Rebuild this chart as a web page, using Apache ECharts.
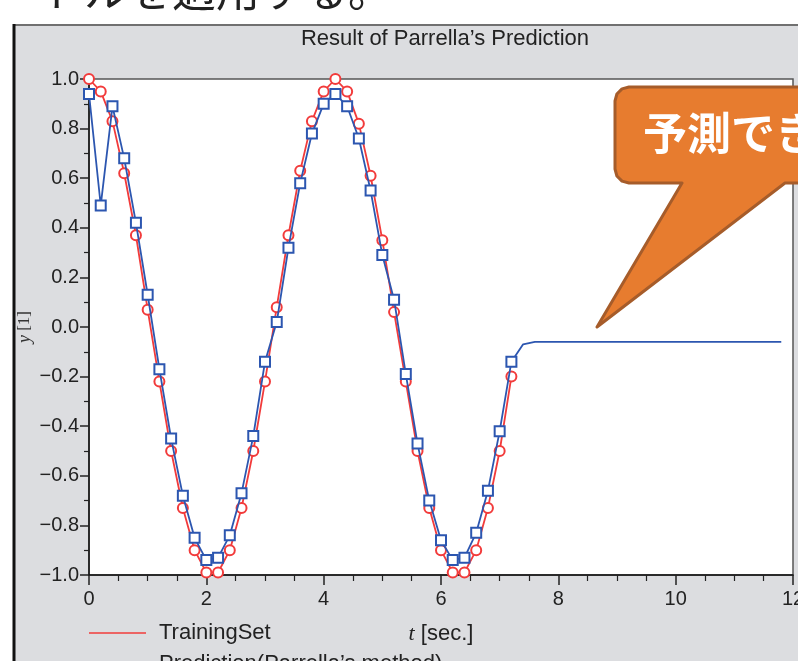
<!DOCTYPE html>
<html><head><meta charset="utf-8">
<script src="https://cdn.jsdelivr.net/npm/echarts@6/dist/echarts.min.js"></script>
<style>html,body{margin:0;padding:0;background:#fff;overflow:hidden}#c{width:798px;height:661px}</style>
</head><body><div id="c"></div>
<script>
// ---- data ----
const tTrain = [0,0.2,0.4,0.6,0.8,1.0,1.2,1.4,1.6,1.8,2.0,2.2,2.4,2.6,2.8,3.0,3.2,3.4,3.6,3.8,4.0,4.2,4.4,4.6,4.8,5.0,5.2,5.4,5.6,5.8,6.0,6.2,6.4,6.6,6.8,7.0,7.2];
const trainingSet = [1.00,0.95,0.83,0.62,0.37,0.07,-0.22,-0.50,-0.73,-0.90,-0.99,-0.99,-0.90,-0.73,-0.50,-0.22,0.08,0.37,0.63,0.83,0.95,1.00,0.95,0.82,0.61,0.35,0.06,-0.22,-0.50,-0.73,-0.90,-0.99,-0.99,-0.90,-0.73,-0.50,-0.20];
const predictionFit = [0.94,0.49,0.89,0.68,0.42,0.13,-0.17,-0.45,-0.68,-0.85,-0.94,-0.93,-0.84,-0.67,-0.44,-0.14,0.02,0.32,0.58,0.78,0.90,0.94,0.89,0.76,0.55,0.29,0.11,-0.19,-0.47,-0.70,-0.86,-0.94,-0.93,-0.83,-0.66,-0.42,-0.14];
const tForecast = [7.4,7.6,7.8,8.0,8.2,8.4,8.6,8.8,9.0,9.2,9.4,9.6,9.8,10.0,10.2,10.4,10.6,10.8,11.0,11.2,11.4,11.6,11.8];
const predictionForecast = [-0.07,-0.06,-0.06,-0.06,-0.06,-0.06,-0.06,-0.06,-0.06,-0.06,-0.06,-0.06,-0.06,-0.06,-0.06,-0.06,-0.06,-0.06,-0.06,-0.06,-0.06,-0.06,-0.06];
const seriesNames = ['TrainingSet', 'Prediction(Parrella\u2019s method)'];
const titleText = 'Result of Parrella\u2019s Prediction';
const headText = 'トルを適用する。';
const calloutText = '予測できない';

// ---- chart ----
const trainData = tTrain.map((t, i) => [t, trainingSet[i]]);
const predData = tTrain.map((t, i) => [t, predictionFit[i]])
  .concat(tForecast.map((t, i) => ({ value: [t, predictionForecast[i]], symbol: 'none' })));

const font = 'Liberation Sans, Arial, sans-serif';
const legendBase = {
  orient: 'vertical', left: 84, itemWidth: 57, itemHeight: 1.6, icon: 'rect',
  textStyle: { fontFamily: font, fontSize: 22, color: '#222', padding: [0, 0, 0, 8] }
};
const chart = echarts.init(document.getElementById('c'));
chart.setOption({
  animation: false,
  backgroundColor: 'transparent',
  title: {
    text: titleText, left: 440, top: 23, textAlign: 'center',
    textStyle: { fontFamily: font, fontSize: 22, fontWeight: 'normal', color: '#222' }
  },
  grid: {
    left: 89, right: 5, top: 79, bottom: 86, outerBoundsMode: 'none', containLabel: false,
    show: true, backgroundColor: '#ffffff', borderColor: '#555', borderWidth: 1.5
  },
  legend: [
    Object.assign({ top: 617, data: [seriesNames[0]] }, legendBase),
    Object.assign({ top: 648, data: [seriesNames[1]] }, legendBase)
  ],
  xAxis: {
    type: 'value', min: 0, max: 12, interval: 2,
    name: '{i|t} [sec.]', nameLocation: 'middle', nameGap: 48,
    nameTextStyle: {
      fontFamily: font, fontSize: 22, color: '#222',
      rich: { i: { fontFamily: 'Liberation Serif, serif', fontStyle: 'italic', fontSize: 22, color: '#222' } }
    },
    axisLine: { onZero: false, lineStyle: { color: '#111', width: 1.5 } },
    axisTick: { inside: false, length: 10, lineStyle: { color: '#222', width: 1.5 } },
    minorTick: { show: true, splitNumber: 4, length: 6, lineStyle: { color: '#222', width: 1.2 } },
    axisLabel: { margin: 14, fontFamily: font, fontSize: 20, color: '#222' },
    splitLine: { show: false }
  },
  yAxis: {
    type: 'value', min: -1, max: 1, interval: 0.2,
    name: '{i|y} [1]', nameLocation: 'middle', nameGap: 55, nameRotate: 90, nameMoveOverlap: false,
    nameTextStyle: {
      fontFamily: 'Liberation Serif, serif', fontSize: 17, color: '#333',
      rich: { i: { fontFamily: 'Liberation Serif, serif', fontStyle: 'italic', fontSize: 18, color: '#333' } }
    },
    axisLine: { onZero: false, lineStyle: { color: '#111', width: 1.5 } },
    axisTick: { inside: false, length: 9, lineStyle: { color: '#222', width: 1.5 } },
    minorTick: { show: true, splitNumber: 2, length: 5, lineStyle: { color: '#222', width: 1.2 } },
    axisLabel: {
      margin: 10, fontFamily: font, fontSize: 20, color: '#222',
      formatter: v => (v < 0 ? '\u2212' : '') + Math.abs(v).toFixed(1)
    },
    splitLine: { show: false }
  },
  series: [
    {
      name: seriesNames[0], type: 'line', data: trainData,
      symbol: 'emptyCircle', symbolSize: 10, showAllSymbol: true,
      lineStyle: { color: '#f23b3b', width: 1.8 },
      itemStyle: { color: '#f23b3b', borderWidth: 1.6 },
      z: 2
    },
    {
      name: seriesNames[1], type: 'line', data: predData,
      symbol: 'emptyRect', symbolSize: 10, showAllSymbol: true,
      lineStyle: { color: '#2c56b0', width: 1.8 },
      itemStyle: { color: '#2c56b0', borderWidth: 2 },
      z: 3
    }
  ],
  graphic: [
    { type: 'rect', z: -10, shape: { x: 14, y: 25, width: 800, height: 660 },
      style: { fill: '#dcdde0', stroke: '#707070', lineWidth: 2 } },
    { type: 'line', z: -9, shape: { x1: 14, y1: 24, x2: 14, y2: 661 },
      style: { stroke: '#111', lineWidth: 3 } },
    { type: 'text', z: -11, x: 40, y: 12,
      style: { text: headText, fontFamily: 'Noto Sans CJK JP', fontSize: 44, fill: '#222', verticalAlign: 'bottom' } },
    { type: 'polygon', z: 100,
      shape: { points: [[629,87],[830,87],[830,183],[785,183],[597,327],[682,183],[629,183],[622,181.1],[616.9,176],[615,169],[615,101],[616.9,94],[622,88.9]] },
      style: { fill: '#e77c2f', stroke: '#a65c2a', lineWidth: 3, lineJoin: 'round' } },
    { type: 'text', z: 101, x: 643, y: 133,
      style: { text: calloutText, fontFamily: 'Noto Sans CJK JP', fontWeight: 'bold', fontSize: 44,
               fill: '#ffffff', verticalAlign: 'middle', align: 'left' } }
  ]
});
</script></body></html>
